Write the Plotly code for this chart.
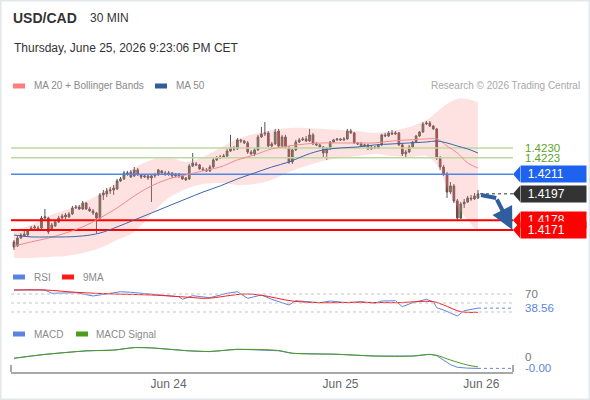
import plotly.graph_objects as go

# ---- 30 min candles, oldest first ----
open_ = [
    1.41624, 1.41595, 1.41652, 1.41667, 1.41674, 1.41710, 1.41724, 1.41724, 1.41724, 1.41796,
    1.41796, 1.41710, 1.41739, 1.41768, 1.41796, 1.41818, 1.41804, 1.41825, 1.41868, 1.41875,
    1.41861, 1.41904, 1.41861, 1.41847, 1.41832, 1.41796, 1.41962, 1.41969, 1.41991, 1.41998,
    1.42005, 1.42063, 1.42077, 1.42113, 1.42127, 1.42099, 1.42142, 1.42106, 1.42091, 1.42099,
    1.42084, 1.42099, 1.42106, 1.42135, 1.42120, 1.42113, 1.42120, 1.42099, 1.42113, 1.42099,
    1.42084, 1.42077, 1.42170, 1.42185, 1.42178, 1.42149, 1.42142, 1.42135, 1.42163, 1.42214,
    1.42228, 1.42235, 1.42242, 1.42278, 1.42300, 1.42293, 1.42358, 1.42350, 1.42336, 1.42271,
    1.42257, 1.42286, 1.42379, 1.42401, 1.42408, 1.42314, 1.42329, 1.42422, 1.42314, 1.42379,
    1.42300, 1.42199, 1.42286, 1.42343, 1.42358, 1.42365, 1.42350, 1.42394, 1.42329, 1.42322,
    1.42307, 1.42264, 1.42300, 1.42343, 1.42358, 1.42365, 1.42358, 1.42365, 1.42422, 1.42408,
    1.42336, 1.42329, 1.42314, 1.42322, 1.42293, 1.42307, 1.42300, 1.42322, 1.42394, 1.42386,
    1.42408, 1.42401, 1.42408, 1.42322, 1.42257, 1.42271, 1.42307, 1.42343, 1.42386, 1.42415,
    1.42473, 1.42480, 1.42458, 1.42437, 1.42228, 1.42163, 1.42113, 1.41983, 1.42027, 1.41919,
    1.41796, 1.41897, 1.41911, 1.41940, 1.41933, 1.41940]
close = [
    1.41588, 1.41652, 1.41674, 1.41681, 1.41710, 1.41724, 1.41732, 1.41717, 1.41796, 1.41804,
    1.41696, 1.41746, 1.41768, 1.41796, 1.41811, 1.41804, 1.41825, 1.41868, 1.41875, 1.41861,
    1.41904, 1.41861, 1.41847, 1.41832, 1.41796, 1.41962, 1.41976, 1.41991, 1.41998, 1.42012,
    1.42063, 1.42077, 1.42120, 1.42120, 1.42091, 1.42142, 1.42106, 1.42091, 1.42099, 1.42084,
    1.42099, 1.42106, 1.42142, 1.42120, 1.42113, 1.42120, 1.42099, 1.42113, 1.42099, 1.42077,
    1.42070, 1.42170, 1.42192, 1.42178, 1.42149, 1.42142, 1.42135, 1.42163, 1.42214, 1.42228,
    1.42235, 1.42242, 1.42278, 1.42300, 1.42293, 1.42358, 1.42350, 1.42336, 1.42271, 1.42257,
    1.42286, 1.42379, 1.42401, 1.42408, 1.42314, 1.42329, 1.42415, 1.42314, 1.42379, 1.42307,
    1.42199, 1.42286, 1.42343, 1.42358, 1.42365, 1.42350, 1.42394, 1.42329, 1.42322, 1.42307,
    1.42264, 1.42300, 1.42343, 1.42358, 1.42365, 1.42358, 1.42365, 1.42422, 1.42408, 1.42336,
    1.42329, 1.42314, 1.42322, 1.42293, 1.42307, 1.42300, 1.42322, 1.42394, 1.42386, 1.42408,
    1.42401, 1.42408, 1.42322, 1.42257, 1.42271, 1.42307, 1.42343, 1.42386, 1.42415, 1.42473,
    1.42480, 1.42458, 1.42437, 1.42228, 1.42163, 1.42113, 1.41983, 1.42027, 1.41919, 1.41796,
    1.41897, 1.41911, 1.41940, 1.41933, 1.41955, 1.41970]
high = [
    1.41638, 1.41667, 1.41688, 1.41703, 1.41717, 1.41739, 1.41746, 1.41739, 1.41811, 1.41861,
    1.41804, 1.41760, 1.41782, 1.41811, 1.41825, 1.41832, 1.41840, 1.41883, 1.41890, 1.41890,
    1.41919, 1.41911, 1.41875, 1.41861, 1.41840, 1.41976, 1.41998, 1.42012, 1.42019, 1.42034,
    1.42077, 1.42091, 1.42135, 1.42135, 1.42142, 1.42163, 1.42156, 1.42113, 1.42113, 1.42106,
    1.42113, 1.42120, 1.42149, 1.42142, 1.42135, 1.42135, 1.42127, 1.42120, 1.42120, 1.42106,
    1.42091, 1.42185, 1.42264, 1.42199, 1.42185, 1.42163, 1.42156, 1.42178, 1.42228, 1.42242,
    1.42250, 1.42257, 1.42293, 1.42394, 1.42314, 1.42372, 1.42365, 1.42358, 1.42350, 1.42286,
    1.42300, 1.42394, 1.42451, 1.42487, 1.42422, 1.42343, 1.42437, 1.42437, 1.42394, 1.42394,
    1.42314, 1.42293, 1.42358, 1.42372, 1.42379, 1.42386, 1.42437, 1.42408, 1.42343, 1.42329,
    1.42314, 1.42307, 1.42350, 1.42365, 1.42372, 1.42372, 1.42379, 1.42437, 1.42437, 1.42415,
    1.42343, 1.42343, 1.42329, 1.42329, 1.42322, 1.42314, 1.42329, 1.42401, 1.42408, 1.42422,
    1.42430, 1.42422, 1.42415, 1.42336, 1.42286, 1.42322, 1.42350, 1.42394, 1.42422, 1.42487,
    1.42494, 1.42494, 1.42465, 1.42444, 1.42242, 1.42178, 1.42127, 1.42055, 1.42041, 1.41933,
    1.41911, 1.41933, 1.41955, 1.41962, 1.41976, 1.41998]
low = [
    1.41566, 1.41588, 1.41645, 1.41660, 1.41667, 1.41703, 1.41717, 1.41710, 1.41717, 1.41782,
    1.41681, 1.41703, 1.41732, 1.41760, 1.41789, 1.41789, 1.41796, 1.41818, 1.41861, 1.41854,
    1.41854, 1.41854, 1.41840, 1.41818, 1.41688, 1.41789, 1.41926, 1.41947, 1.41969, 1.41962,
    1.41998, 1.42055, 1.42070, 1.42099, 1.42084, 1.42091, 1.42099, 1.42077, 1.42084, 1.42070,
    1.41911, 1.42084, 1.42099, 1.42113, 1.42099, 1.42099, 1.42084, 1.42091, 1.42084, 1.42070,
    1.42063, 1.42070, 1.42163, 1.42170, 1.42142, 1.42135, 1.42127, 1.42127, 1.42156, 1.42206,
    1.42221, 1.42228, 1.42235, 1.42271, 1.42278, 1.42286, 1.42336, 1.42329, 1.42257, 1.42250,
    1.42242, 1.42278, 1.42372, 1.42386, 1.42307, 1.42300, 1.42322, 1.42300, 1.42300, 1.42293,
    1.42185, 1.42185, 1.42278, 1.42336, 1.42350, 1.42343, 1.42343, 1.42322, 1.42314, 1.42300,
    1.42228, 1.42214, 1.42286, 1.42336, 1.42350, 1.42350, 1.42350, 1.42358, 1.42401, 1.42329,
    1.42322, 1.42307, 1.42307, 1.42286, 1.42286, 1.42293, 1.42293, 1.42314, 1.42379, 1.42379,
    1.42394, 1.42394, 1.42314, 1.42242, 1.42235, 1.42264, 1.42300, 1.42336, 1.42379, 1.42408,
    1.42465, 1.42451, 1.42430, 1.42214, 1.42142, 1.42099, 1.41940, 1.41969, 1.41904, 1.41782,
    1.41789, 1.41868, 1.41904, 1.41919, 1.41926, 1.41933]
candle_idx = list(range(len(close)))

# ---- moving averages / bollinger, read at sample candles ----
ma_idx = [0, 5, 10, 15, 20, 25, 30, 35, 40, 45, 50, 55, 60, 65, 70,
          75, 80, 85, 90, 95, 100, 105, 110, 115, 120, 123, 126, 129, 132, 135]
ma20 = [1.41595, 1.41624, 1.41652, 1.41688, 1.41732, 1.41796, 1.41868, 1.41955, 1.42027, 1.42077,
        1.42106, 1.42135, 1.42163, 1.42214, 1.42250, 1.42293, 1.42314, 1.42329, 1.42336, 1.42336,
        1.42336, 1.42336, 1.42350, 1.42358, 1.42365, 1.42365, 1.42314, 1.42264, 1.42192, 1.42156]
ma50 = [1.41674, 1.41660, 1.41660, 1.41660, 1.41667, 1.41688, 1.41732, 1.41782, 1.41832, 1.41883,
        1.41933, 1.41983, 1.42027, 1.42077, 1.42120, 1.42163, 1.42199, 1.42250, 1.42286, 1.42300,
        1.42307, 1.42322, 1.42329, 1.42336, 1.42343, 1.42350, 1.42336, 1.42314, 1.42293, 1.42264]
bb_upper = [1.41710, 1.41746, 1.41811, 1.41854, 1.41904, 1.41969, 1.42055, 1.42156, 1.42214, 1.42235,
            1.42199, 1.42235, 1.42300, 1.42365, 1.42401, 1.42430, 1.42444, 1.42444, 1.42437, 1.42430,
            1.42422, 1.42408, 1.42422, 1.42451, 1.42501, 1.42559, 1.42617, 1.42653, 1.42653, 1.42631]
bb_lower = [1.41509, 1.41509, 1.41516, 1.41523, 1.41545, 1.41581, 1.41638, 1.41696, 1.41825, 1.41940,
            1.42005, 1.42041, 1.42048, 1.42034, 1.42041, 1.42070, 1.42127, 1.42170, 1.42206, 1.42228,
            1.42242, 1.42257, 1.42242, 1.42235, 1.42242, 1.42178, 1.42019, 1.41875, 1.41782, 1.41696]

# ---- key levels ----
green_levels = [1.4230, 1.4223]
blue_level = 1.4211
last_price = 1.4197
red_levels = [1.4178, 1.4171]

# forecast arrow (candle position, price)
arrow_x = [135.9, 140.3, 145.0]
arrow_y = [1.41962, 1.41940, 1.41712]

# ---- RSI ----
rsi_idx = [0, 9, 11, 18, 23, 31, 34, 40, 48, 49, 52, 57, 62, 65, 68, 72, 75, 80,
           82, 89, 92, 97, 101, 105, 107, 111, 113, 116, 120, 122, 123, 125, 129, 131, 134, 135]
rsi = [78.9, 78.9, 71.6, 72.9, 65.6, 75.1, 73.8, 69.3, 64.0, 58.2, 66.2, 61.8, 71.6, 75.1, 60.4,
       67.8, 58.2, 45.6, 55.1, 50.7, 54.4, 50.7, 52.9, 49.3, 54.4, 55.1, 41.8, 50.7, 58.2, 52.9,
       39.6, 34.4, 21.1, 32.9, 36.0, 38.56]
rsi_ma_idx = [0, 9, 18, 29, 40, 51, 56, 67, 72, 81, 89, 100, 111, 122, 125, 130, 135]
rsi_ma = [78.9, 78.9, 73.8, 70.0, 67.8, 62.7, 60.4, 70.0, 67.1, 54.4, 50.7, 51.6, 50.7, 52.9,
          45.6, 30.7, 29.3]
rsi_levels = [70, 50, 30]

# ---- MACD ----
macd_idx = [0, 9, 21, 29, 35, 40, 51, 57, 65, 77, 81, 94, 105, 116, 121, 123, 127, 129, 132, 135]
macd = [-0.00007, 0.00011, 0.00027, 0.00030, 0.00042, 0.00040, 0.00026, 0.00023, 0.00034, 0.00027,
        0.00015, 0.00011, 0.00003, 0.00003, 0.00011, 0.00005, -0.00036, -0.00048, -0.00052, -0.00053]
signal_idx = [0, 9, 21, 29, 35, 40, 51, 57, 65, 77, 81, 94, 105, 116, 121, 123, 127, 132, 135]
signal = [-0.00007, 0.00010, 0.00026, 0.00030, 0.00041, 0.00040, 0.00027, 0.00024, 0.00033, 0.00028,
          0.00016, 0.00011, 0.00003, 0.00003, 0.00010, 0.00006, -0.00015, -0.00038, -0.00046]

tick_idx = [45, 95, 136]
tick_labels = ['Jun 24', 'Jun 25', 'Jun 26']

# ---- layout constants ----
W, H = 590, 400
FONT = 'Liberation Sans, Arial, sans-serif'
XR = [-0.87, 145.2]
XDOM = [11 / W, 513 / W]
PRICE_R = [1.41494, 1.42717]
PX_PRICE = (PRICE_R[1] - PRICE_R[0]) / 170.0  # price per pixel in main panel

GREEN_C = '#3d8b2e'
RED_C = '#e3161b'
BLUE_RSI = '#5b84e0'


def X(p):
    return p / W


def Y(p):
    return 1 - p / H


fig = go.Figure()

# bollinger band
fig.add_trace(go.Scatter(x=ma_idx, y=bb_lower, mode='lines', line=dict(width=0),
                         line_shape='spline', hoverinfo='skip'))
fig.add_trace(go.Scatter(x=ma_idx, y=bb_upper, mode='lines', line=dict(width=0),
                         line_shape='spline', fill='tonexty',
                         fillcolor='rgba(250,140,140,0.25)', hoverinfo='skip'))

# horizontal levels
for lv in green_levels:
    fig.add_trace(go.Scatter(x=XR, y=[lv, lv], mode='lines',
                             line=dict(color='#bcd9a0', width=1.5), hoverinfo='skip'))
fig.add_trace(go.Scatter(x=XR, y=[blue_level] * 2, mode='lines',
                         line=dict(color='#4f86ea', width=1.5), hoverinfo='skip'))
for lv in red_levels:
    fig.add_trace(go.Scatter(x=XR, y=[lv, lv], mode='lines',
                             line=dict(color='#ff0000', width=2), hoverinfo='skip'))

fig.add_trace(go.Scatter(x=ma_idx, y=ma20, mode='lines', line=dict(color='#f28b8b', width=1),
                         line_shape='spline', hoverinfo='skip'))
fig.add_trace(go.Scatter(x=ma_idx, y=ma50, mode='lines', line=dict(color='#3a66a8', width=1),
                         line_shape='spline', hoverinfo='skip'))

fig.add_trace(go.Candlestick(
    x=candle_idx, open=open_, high=high, low=low, close=close,
    increasing=dict(line=dict(color='#555555', width=1), fillcolor=GREEN_C),
    decreasing=dict(line=dict(color='#555555', width=1), fillcolor=RED_C),
    whiskerwidth=0, hoverinfo='skip'))

# last price dotted line
fig.add_trace(go.Scatter(x=[candle_idx[-1] + 0.6, XR[1]], y=[last_price] * 2, mode='lines',
                         line=dict(color='#333333', width=1, dash='dot'), hoverinfo='skip'))
# forecast arrow body
fig.add_trace(go.Scatter(x=arrow_x[:2], y=arrow_y[:2], mode='lines', cliponaxis=False,
                         line=dict(color='#2f5e9e', width=4), hoverinfo='skip'))

# RSI panel
fig.add_trace(go.Scatter(x=rsi_idx, y=rsi, xaxis='x2', yaxis='y2', mode='lines',
                         line=dict(color=BLUE_RSI, width=1), hoverinfo='skip'))
fig.add_trace(go.Scatter(x=rsi_ma_idx, y=rsi_ma, xaxis='x2', yaxis='y2', mode='lines',
                         line=dict(color='#ff1a1a', width=1), line_shape='spline', hoverinfo='skip'))
fig.add_trace(go.Scatter(x=[rsi_idx[-1], XR[1]], y=[rsi[-1]] * 2, xaxis='x2', yaxis='y2',
                         mode='lines', line=dict(color=BLUE_RSI, width=1, dash='dot'),
                         hoverinfo='skip'))

# MACD panel
fig.add_trace(go.Scatter(x=macd_idx, y=macd, xaxis='x3', yaxis='y3', mode='lines',
                         line=dict(color=BLUE_RSI, width=1), hoverinfo='skip'))
fig.add_trace(go.Scatter(x=signal_idx, y=signal, xaxis='x3', yaxis='y3', mode='lines',
                         line=dict(color='#4e9a1a', width=1), line_shape='spline', hoverinfo='skip'))
fig.add_trace(go.Scatter(x=[macd_idx[-1], XR[1]], y=[macd[-1]] * 2, xaxis='x3', yaxis='y3',
                         mode='lines', line=dict(color=BLUE_RSI, width=1, dash='dot'),
                         hoverinfo='skip'))

shapes = []
annotations = []

# RSI guide lines
for lv in rsi_levels:
    shapes.append(dict(type='line', xref='x2 domain', yref='y2', x0=0, x1=1, y0=lv, y1=lv,
                       line=dict(color='#c4c4c4', width=1, dash='dot')))

# tags on the right
tag_h = 8 * PX_PRICE
tags = [(blue_level, '#1d63f0'), (last_price, '#333333'),
        (red_levels[0], '#ff0000'), (red_levels[1], '#ff0000')]
for lv, col in tags:
    shapes.append(dict(type='path', xref='paper', yref='y', fillcolor=col, line=dict(width=0),
                       path=f'M {X(520)},{lv + tag_h} L {X(513)},{lv} L {X(520)},{lv - tag_h} Z'))
    annotations.append(dict(xref='paper', yref='y', x=X(519.5), y=lv, xanchor='left',
                            yanchor='middle', text=f'&nbsp;&nbsp;{lv:.4f}', showarrow=False,
                            align='left', width=65, height=16, borderpad=0, bgcolor=col,
                            font=dict(size=12, color='white')))
for lv in green_levels:
    annotations.append(dict(xref='paper', yref='y', x=X(523), y=lv, xanchor='left',
                            yanchor='middle', text=f'{lv:.4f}', showarrow=False,
                            font=dict(size=11.5, color='#5ea22a')))

# forecast arrow head
annotations.append(dict(xref='x', yref='y', axref='x', ayref='y', x=arrow_x[2], y=arrow_y[2],
                        ax=arrow_x[1], ay=arrow_y[1], text='', showarrow=True, arrowhead=2,
                        arrowsize=1.1, arrowwidth=4, arrowcolor='#2f5e9e'))

# right side indicator labels
annotations += [
    dict(xref='paper', yref='y2', x=X(523), y=70, xanchor='left', yanchor='middle', text='70',
         showarrow=False, font=dict(size=11.5, color='#777777')),
    dict(xref='paper', yref='y2', x=X(523), y=rsi[-1], xanchor='left', yanchor='middle',
         text=f'{rsi[-1]:.2f}', showarrow=False, font=dict(size=11.5, color=BLUE_RSI)),
    dict(xref='paper', yref='y3', x=X(523), y=0, xanchor='left', yanchor='middle', text='0',
         showarrow=False, font=dict(size=11.5, color='#777777')),
    dict(xref='paper', yref='y3', x=X(523), y=macd[-1], xanchor='left', yanchor='middle',
         text=f'{macd[-1]:.2f}', showarrow=False, font=dict(size=11.5, color=BLUE_RSI)),
]


def legend_item(x_rect, x_text, y, color, label):
    shapes.append(dict(type='rect', xref='paper', yref='paper', x0=X(x_rect), x1=X(x_rect + 12),
                       y0=Y(y + 2.5), y1=Y(y - 2.5), fillcolor=color, line=dict(width=0)))
    annotations.append(dict(xref='paper', yref='paper', x=X(x_text), y=Y(y), xanchor='left',
                            yanchor='middle', text=label, showarrow=False,
                            font=dict(size=10, color='#8a8a8a')))


legend_item(13, 32, 86, '#ff7d7d', 'MA 20 + Bollinger Bands')
legend_item(155, 174, 86, '#2f5d9e', 'MA 50')
legend_item(13, 32, 277, BLUE_RSI, 'RSI')
legend_item(62, 81, 277, '#ff1a1a', '9MA')
legend_item(13, 32, 334, BLUE_RSI, 'MACD')
legend_item(76, 94, 334, '#4e9a1a', 'MACD Signal')

# header
annotations += [
    dict(xref='paper', yref='paper', x=X(11), y=Y(18), xanchor='left', yanchor='middle',
         text='<b>USD/CAD</b>', showarrow=False, font=dict(size=14, color='#333333')),
    dict(xref='paper', yref='paper', x=X(88), y=Y(18), xanchor='left', yanchor='middle',
         text='30 MIN', showarrow=False, font=dict(size=12, color='#333333')),
    dict(xref='paper', yref='paper', x=X(12), y=Y(48), xanchor='left', yanchor='middle',
         text='Thursday, June 25, 2026 9:23:06 PM CET', showarrow=False,
         font=dict(size=12, color='#333333')),
    dict(xref='paper', yref='paper', x=X(582), y=Y(86), xanchor='right', yanchor='middle',
         text='Research © 2026 Trading Central', showarrow=False,
         font=dict(size=10, color='#a8a8a8')),
]

# axis end ticks and frame
for xp in (11, 513):
    shapes.append(dict(type='line', xref='paper', yref='paper', x0=X(xp), x1=X(xp),
                       y0=Y(372), y1=Y(365), line=dict(color='#a8a8a8', width=2)))
shapes.append(dict(type='rect', xref='paper', yref='paper', x0=0, x1=1, y0=0, y1=1,
                   line=dict(color='#e3e7ec', width=3)))

fig.update_layout(
    width=W, height=H, margin=dict(l=0, r=0, t=0, b=0),
    paper_bgcolor='white', plot_bgcolor='white', showlegend=False,
    font=dict(family=FONT),
    xaxis=dict(domain=XDOM, range=XR, visible=False, rangeslider=dict(visible=False)),
    yaxis=dict(domain=[Y(260), Y(90)], range=PRICE_R, visible=False),
    xaxis2=dict(domain=XDOM, range=XR, visible=False, anchor='y2'),
    yaxis2=dict(domain=[Y(320), Y(286)], range=[12.2, 87.8], visible=False, anchor='x2'),
    xaxis3=dict(domain=XDOM, range=XR, anchor='y3', showline=True, linecolor='#a8a8a8',
                linewidth=2, tickvals=tick_idx, ticktext=tick_labels, ticks='',
                showgrid=False, zeroline=False, tickfont=dict(size=12, color='#666666')),
    yaxis3=dict(domain=[Y(372), Y(340)], range=[-0.000695, 0.000759], visible=False,
                anchor='x3'),
    shapes=shapes, annotations=annotations,
)

# the page body has a default margin; remove it so the figure sits at the window corner
fig.write_html('out.html', config={'displayModeBar': False},
               post_script="document.body.style.margin='0';")
